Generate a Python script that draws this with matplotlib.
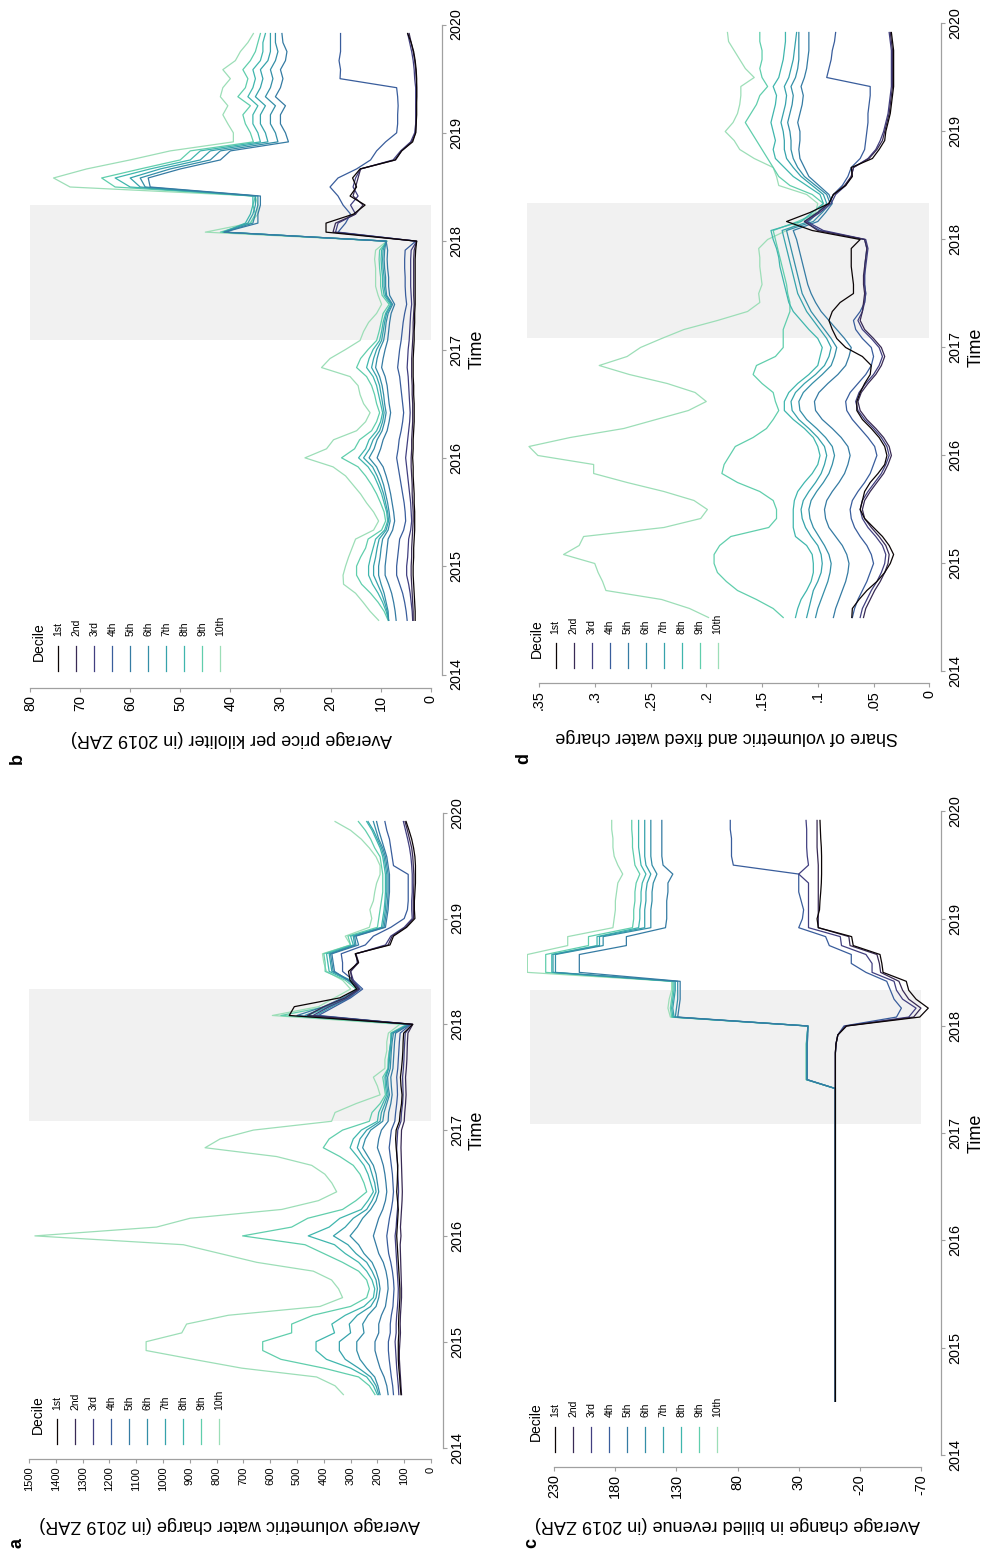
import numpy as np
import matplotlib
matplotlib.use("Agg")
import matplotlib.pyplot as plt
from matplotlib.lines import Line2D
import seaborn as sns

plt.rcParams['font.family'] = ['Liberation Sans', 'DejaVu Sans']

W, H = 987, 1551

# monthly observations 2014m7 .. 2019m12
months = 2014 + (6 + np.arange(66)) / 12
restriction = (2017 + 1 / 12, 2018 + 4 / 12)   # shaded period 2017m2 - 2018m5
years = [2014, 2015, 2016, 2017, 2018, 2019, 2020]
deciles = ['1st', '2nd', '3rd', '4th', '5th', '6th', '7th', '8th', '9th', '10th']

mako = sns.color_palette('mako', as_cmap=True)
colors = [mako(x) for x in (0.0, 0.2, 0.3, 0.4, 0.5, 0.57, 0.64, 0.71, 0.8, 0.88)]

# ---- a: average volumetric water charge (2019 ZAR) ----
charge_1 = [112, 115, 117, 120, 122, 122,
            122, 120, 121, 120, 118, 116, 116, 118, 120, 122, 124, 126,
            128, 126, 124, 122, 125, 128, 126, 125, 124, 127, 130, 132,
            130, 118, 115, 110, 108, 112, 114, 110, 107, 105, 104, 102,
            68, 529, 510, 340, 277, 302, 308, 271, 283, 153, 140, 91,
            60, 62, 62, 60, 58, 58, 58, 60, 65, 72, 82, 93]
charge_2 = [110, 112, 114, 116, 118, 118,
            116, 114, 115, 114, 112, 110, 110, 111, 112, 113, 114, 115,
            112, 114, 112, 110, 108, 107, 108, 109, 110, 111, 112, 111,
            110, 100, 98, 95, 93, 94, 95, 92, 90, 89, 88, 86,
            68, 460, 400, 320, 270, 295, 300, 270, 280, 160, 145, 95,
            65, 66, 66, 65, 64, 64, 66, 68, 72, 80, 88, 97]
charge_3 = [120, 122, 125, 128, 130, 132,
            134, 130, 130, 128, 125, 123, 122, 124, 126, 128, 130, 132,
            134, 130, 128, 125, 123, 121, 122, 124, 125, 127, 128, 126,
            124, 112, 110, 106, 104, 105, 106, 103, 101, 100, 98, 96,
            70, 440, 380, 310, 265, 290, 300, 275, 280, 170, 150, 100,
            70, 72, 72, 70, 70, 70, 72, 75, 80, 87, 95, 103]
charge_4 = [140, 143, 148, 152, 156, 159,
            159, 152, 152, 148, 142, 140, 138, 140, 144, 150, 158, 162,
            165, 160, 155, 148, 143, 140, 142, 144, 148, 152, 156, 152,
            148, 135, 132, 128, 125, 126, 128, 124, 122, 120, 118, 115,
            75, 420, 360, 300, 255, 290, 330, 330, 335, 245, 215, 150,
            100, 88, 85, 85, 85, 85, 140, 145, 150, 155, 165, 172]
charge_5 = [160, 165, 175, 190, 200, 209,
            209, 195, 195, 185, 170, 165, 160, 162, 168, 178, 195, 205,
            215, 205, 195, 180, 170, 165, 168, 172, 178, 188, 200, 195,
            185, 160, 158, 150, 145, 148, 150, 142, 140, 138, 136, 132,
            78, 500, 400, 330, 270, 310, 360, 365, 370, 270, 280, 170,
            165, 160, 158, 155, 155, 155, 160, 165, 175, 185, 195, 203]
charge_6 = [190, 198, 210, 240, 265, 277,
            277, 250, 255, 235, 205, 195, 190, 195, 205, 220, 250, 270,
            302, 275, 255, 225, 205, 195, 200, 205, 215, 235, 255, 245,
            225, 180, 175, 165, 155, 160, 162, 152, 150, 148, 145, 140,
            80, 470, 390, 320, 265, 305, 365, 370, 375, 280, 285, 175,
            170, 165, 162, 160, 160, 160, 165, 170, 180, 195, 205, 215]
charge_7 = [195, 205, 225, 270, 320, 342,
            342, 300, 305, 275, 225, 205, 200, 205, 220, 240, 280, 310,
            364, 320, 290, 240, 220, 205, 210, 220, 230, 255, 275, 265,
            240, 190, 185, 172, 160, 165, 168, 158, 155, 152, 150, 145,
            82, 430, 370, 305, 265, 300, 370, 375, 380, 285, 290, 180,
            175, 170, 168, 165, 165, 165, 170, 175, 185, 200, 215, 235]
charge_8 = [200, 215, 240, 300, 390, 429,
            429, 360, 370, 320, 250, 215, 210, 220, 240, 270, 320, 360,
            458, 380, 340, 260, 235, 215, 225, 235, 250, 275, 302, 290,
            260, 200, 195, 180, 165, 170, 172, 160, 158, 155, 150, 148,
            85, 460, 380, 310, 270, 310, 380, 385, 390, 290, 300, 185,
            180, 175, 172, 170, 170, 170, 175, 180, 190, 205, 220, 240]
charge_9 = [209, 230, 270, 400, 560, 628,
            628, 520, 520, 440, 300, 240, 230, 240, 270, 330, 400, 470,
            703, 520, 460, 330, 280, 240, 250, 265, 290, 340, 402, 380,
            330, 230, 220, 190, 170, 175, 180, 160, 160, 155, 150, 150,
            90, 560, 390, 320, 280, 320, 395, 395, 400, 300, 310, 200,
            195, 190, 185, 180, 180, 180, 185, 190, 210, 225, 245, 271]
charge_10 = [327, 358, 427, 706, 887, 1063,
             1063, 930, 912, 756, 414, 330, 345, 371, 439, 650, 787, 924,
             1478, 1024, 899, 557, 420, 352, 370, 396, 445, 576, 843, 787,
             663, 371, 358, 280, 190, 200, 215, 172, 172, 165, 165, 159,
             116, 592, 420, 360, 300, 330, 390, 400, 405, 300, 320, 230,
             221, 228, 215, 210, 203, 190, 190, 205, 230, 260, 300, 358]

# ---- b: average price per kiloliter (2019 ZAR) ----
price_1 = [3.1, 3.1, 3.2, 3.3, 3.4, 3.5,
           3.5, 3.4, 3.4, 3.3, 3.2, 3.2, 3.2, 3.3, 3.3, 3.4, 3.5, 3.5,
           3.6, 3.5, 3.5, 3.4, 3.3, 3.3, 3.3, 3.4, 3.4, 3.5, 3.5, 3.5,
           3.4, 3.3, 3.3, 3.2, 3.2, 3.1, 3.1, 3.1, 3.1, 3.1, 3.1, 3.0,
           2.8, 20.9, 20.9, 15.4, 13.1, 16.1, 14.8, 15.6, 14.1, 7.1, 5.8, 3.6,
           3.0, 2.9, 2.8, 2.8, 2.8, 2.8, 2.8, 2.9, 3.1, 3.4, 3.9, 4.6]
price_2 = [3.5, 3.5, 3.6, 3.7, 3.8, 3.9,
           3.9, 3.8, 3.8, 3.7, 3.6, 3.5, 3.5, 3.6, 3.7, 3.7, 3.8, 3.9,
           3.9, 3.8, 3.8, 3.7, 3.6, 3.6, 3.6, 3.7, 3.7, 3.8, 3.8, 3.8,
           3.7, 3.6, 3.5, 3.5, 3.4, 3.3, 3.4, 3.4, 3.4, 3.4, 3.4, 3.3,
           2.8, 19.5, 19.0, 15.0, 13.5, 15.5, 15.0, 14.5, 14.0, 7.0, 5.8, 3.8,
           3.0, 2.9, 2.9, 2.9, 2.8, 2.8, 2.9, 3.0, 3.2, 3.5, 3.9, 4.3]
price_3 = [3.6, 3.7, 3.9, 4.1, 4.4, 4.8,
           4.8, 4.6, 4.5, 4.4, 4.0, 3.8, 3.9, 4.0, 4.2, 4.4, 4.6, 4.8,
           5.0, 4.8, 4.6, 4.4, 4.2, 4.1, 4.2, 4.3, 4.4, 4.5, 4.7, 4.6,
           4.5, 4.3, 4.2, 4.1, 4.0, 3.8, 3.9, 4.0, 4.0, 4.0, 4.0, 3.9,
           2.8, 19.0, 18.5, 15.0, 16.0, 14.5, 15.5, 15.0, 14.0, 7.5, 6.0, 4.0,
           3.2, 3.0, 3.0, 3.0, 3.0, 3.0, 3.2, 3.3, 3.5, 3.8, 4.2, 4.6]
price_4 = [4.7, 4.9, 5.2, 5.6, 6.2, 6.8,
           6.8, 6.6, 6.4, 6.2, 5.4, 5.0, 5.1, 5.3, 5.6, 5.9, 6.2, 6.5,
           6.8, 6.5, 6.3, 5.9, 5.6, 5.4, 5.6, 5.8, 6.0, 6.2, 6.6, 6.4,
           6.2, 5.9, 5.7, 5.5, 5.2, 4.8, 5.0, 5.1, 5.1, 5.2, 5.2, 5.1,
           3.0, 18.5, 17.0, 16.0, 17.5, 18.5, 20.1, 18.5, 14.8, 12.0, 10.8, 9.0,
           6.8, 6.6, 6.6, 6.5, 6.6, 6.8, 18.1, 18.0, 18.3, 18.0, 18.0, 18.0]
price_5 = [6.9, 7.1, 7.4, 7.8, 8.4, 9.1,
           9.1, 8.9, 8.7, 8.5, 7.6, 7.2, 7.4, 7.7, 8.0, 8.4, 8.9, 9.5,
           10.7, 10.0, 9.5, 8.7, 8.3, 8.0, 8.3, 8.5, 8.7, 9.1, 9.8, 9.5,
           9.1, 8.6, 8.4, 8.2, 7.9, 7.2, 8.2, 8.4, 8.4, 8.6, 8.7, 8.6,
           8.9, 41.2, 34.5, 34.5, 34.0, 34.0, 56.0, 56.4, 50.0, 42.0, 40.0, 28.4,
           29.0, 30.0, 30.0, 29.0, 31.0, 30.0, 29.5, 30.0, 29.0, 28.7, 29.5, 29.7]
price_6 = [8.4, 8.5, 8.9, 9.3, 9.9, 10.4,
           10.4, 10.1, 9.9, 9.6, 8.5, 8.1, 8.3, 8.6, 9.0, 9.4, 10.0, 10.8,
           12.3, 11.3, 10.7, 9.7, 9.2, 8.9, 9.2, 9.4, 9.7, 10.2, 11.0, 10.7,
           10.2, 9.4, 9.1, 8.9, 8.5, 7.6, 8.8, 9.0, 9.0, 9.2, 9.3, 9.2,
           8.9, 41.2, 35.5, 35.0, 34.5, 34.5, 57.0, 58.0, 52.0, 44.0, 42.0, 30.5,
           31.0, 32.0, 32.0, 31.0, 33.0, 32.0, 31.5, 32.0, 31.0, 30.5, 31.0, 31.0]
price_7 = [8.4, 8.7, 9.2, 9.8, 10.6, 11.4,
           11.4, 11.0, 10.7, 10.3, 8.9, 8.4, 8.6, 9.0, 9.4, 10.0, 10.7, 11.6,
           13.4, 12.2, 11.5, 10.2, 9.6, 9.3, 9.6, 9.9, 10.2, 10.8, 11.8, 11.4,
           10.8, 9.8, 9.5, 9.2, 8.8, 7.8, 9.0, 9.3, 9.3, 9.5, 9.6, 9.5,
           8.9, 41.3, 36.5, 35.5, 35.0, 35.0, 58.0, 60.0, 54.0, 46.0, 44.0, 32.5,
           33.0, 34.0, 34.0, 33.0, 35.0, 34.0, 33.5, 34.0, 32.5, 32.0, 32.0, 32.0]
price_8 = [8.4, 8.9, 9.6, 10.5, 11.6, 12.4,
           12.4, 12.0, 11.5, 11.0, 9.2, 8.6, 8.8, 9.3, 9.8, 10.5, 11.3, 12.5,
           14.4, 13.0, 12.3, 10.8, 10.0, 9.6, 10.0, 10.4, 10.8, 11.5, 12.8, 12.3,
           11.5, 10.2, 9.8, 9.5, 9.0, 8.0, 9.3, 9.6, 9.6, 9.8, 9.9, 9.8,
           8.8, 41.5, 37.0, 36.0, 35.5, 35.5, 60.0, 63.0, 56.0, 48.0, 46.0, 34.0,
           34.5, 35.5, 35.5, 34.5, 36.5, 35.5, 35.0, 35.5, 34.0, 33.5, 33.5, 33.0]
price_9 = [8.5, 9.3, 10.5, 12.0, 13.8, 14.8,
           14.8, 14.0, 13.0, 12.5, 9.8, 9.0, 9.3, 10.0, 10.8, 11.8, 13.0, 14.5,
           17.8, 15.2, 14.2, 11.8, 10.8, 10.2, 10.8, 11.2, 11.8, 12.8, 14.8, 14.0,
           12.5, 10.8, 10.3, 9.9, 9.5, 8.3, 9.7, 10.0, 10.0, 10.2, 10.3, 10.2,
           8.7, 42.0, 36.0, 35.0, 35.5, 35.0, 63.0, 65.7, 58.0, 50.0, 48.0, 35.4,
           36.0, 37.0, 37.5, 36.0, 38.5, 37.0, 36.5, 37.5, 36.0, 35.0, 34.5, 34.0]
price_10 = [10.4, 12.1, 13.5, 15.0, 17.4, 17.5,
            17.0, 16.4, 15.7, 15.0, 11.4, 10.4, 11.4, 12.8, 14.0, 15.5, 17.0, 19.5,
            25.1, 20.8, 19.4, 14.8, 13.0, 12.1, 13.4, 14.1, 14.5, 16.1, 21.8, 20.1,
            17.0, 14.1, 13.4, 12.4, 10.8, 9.8, 10.5, 11.0, 11.0, 11.0, 11.2, 11.0,
            8.8, 45.0, 36.0, 34.5, 34.5, 35.0, 72.0, 75.3, 68.7, 60.0, 52.0, 39.4,
            39.4, 40.5, 41.5, 40.5, 42.0, 41.5, 40.0, 41.5, 39.0, 38.0, 36.5, 35.4]

# ---- c: average change in billed revenue (2019 ZAR) ----
change_1 = [0, 0, 0, 0, 0, 0,
            0, 0, 0, 0, 0, 0, 0, 0, 0, 0, 0, 0,
            0, 0, 0, 0, 0, 0, 0, 0, 0, 0, 0, 0,
            0, 0, 0, 0, 0, 0, 0, 0, 0, 0, -0.5, -2,
            -9.2, -69, -76, -66, -60, -58, -39, -38, -36.5, -14.6, -13.3, 14,
            15, 13, 12.6, 12, 11.5, 11.3, 11.3, 11.3, 11.5, 12, 12.3, 12.6]
change_2 = [0, 0, 0, 0, 0, 0,
            0, 0, 0, 0, 0, 0, 0, 0, 0, 0, 0, 0,
            0, 0, 0, 0, 0, 0, 0, 0, 0, 0, 0, 0,
            0, 0, 0, 0, 0, 0, 0, 0, 0, 0, -0.5, -2,
            -8.5, -64, -70, -60, -55, -52, -37, -36, -34, -12, -11, 14,
            14, 14, 14, 14, 14, 14, 14, 14.5, 15, 15, 15, 15]
change_3 = [0, 0, 0, 0, 0, 0,
            0, 0, 0, 0, 0, 0, 0, 0, 0, 0, 0, 0,
            0, 0, 0, 0, 0, 0, 0, 0, 0, 0, 0, 0,
            0, 0, 0, 0, 0, 0, 0, 0, 0, 0, -0.5, -2,
            -8, -60, -66, -55, -50, -48, -30, -30, -25, -5, -4, 22,
            22, 22, 22, 22, 22, 30, 22, 23, 23.5, 23.5, 23.5, 24]
change_4 = [0, 0, 0, 0, 0, 0,
            0, 0, 0, 0, 0, 0, 0, 0, 0, 0, 0, 0,
            0, 0, 0, 0, 0, 0, 0, 0, 0, 0, 0, 0,
            0, 0, 0, 0, 0, 0, 0, 0, 0, 0, -0.5, -2,
            -7, -50, -54, -48, -45, -42, -25, -13, -13, 5, 8, 30,
            27, 26, 28, 30, 30, 30, 83.5, 85, 85, 85, 86, 86]
change_5 = [0, 0, 0, 0, 0, 0,
            0, 0, 0, 0, 0, 0, 0, 0, 0, 0, 0, 0,
            0, 0, 0, 0, 0, 0, 0, 0, 0, 0, 0, 0,
            0, 0, 0, 0, 0, 0, 23, 23, 23, 23, 23, 22.5,
            22.5, 129, 128, 127, 127, 127, 209.5, 209.5, 209.5, 171, 171, 139,
            138, 138, 138, 137, 137, 133, 141, 142, 142, 142, 142, 142]
change_6 = [0, 0, 0, 0, 0, 0,
            0, 0, 0, 0, 0, 0, 0, 0, 0, 0, 0, 0,
            0, 0, 0, 0, 0, 0, 0, 0, 0, 0, 0, 0,
            0, 0, 0, 0, 0, 0, 23.3, 23.3, 23.3, 23.3, 23.3, 23,
            22.5, 131, 130, 129, 129, 129, 229, 229, 229, 190, 190, 151,
            151, 151, 150, 150, 149, 146, 150, 151, 151, 151, 151, 151]
change_7 = [0, 0, 0, 0, 0, 0,
            0, 0, 0, 0, 0, 0, 0, 0, 0, 0, 0, 0,
            0, 0, 0, 0, 0, 0, 0, 0, 0, 0, 0, 0,
            0, 0, 0, 0, 0, 0, 23.5, 23.5, 23.5, 23.5, 23.5, 23,
            22.5, 132, 133, 132, 131, 131, 231, 231, 231, 193, 193, 156,
            156, 156, 155, 155, 154, 151, 155, 156, 156, 156, 156, 156]
change_8 = [0, 0, 0, 0, 0, 0,
            0, 0, 0, 0, 0, 0, 0, 0, 0, 0, 0, 0,
            0, 0, 0, 0, 0, 0, 0, 0, 0, 0, 0, 0,
            0, 0, 0, 0, 0, 0, 23.6, 23.6, 23.6, 23.6, 23.6, 23,
            22.5, 133, 134, 133, 132, 132, 232, 232, 232, 195, 195, 161,
            160, 160, 159, 159, 158, 155, 159, 160, 161, 161, 161, 161]
change_9 = [0, 0, 0, 0, 0, 0,
            0, 0, 0, 0, 0, 0, 0, 0, 0, 0, 0, 0,
            0, 0, 0, 0, 0, 0, 0, 0, 0, 0, 0, 0,
            0, 0, 0, 0, 0, 0, 23.8, 23.8, 23.8, 23.8, 23.8, 23,
            22.5, 134, 135, 134, 133, 133, 237, 237, 237, 202, 202, 166,
            165, 165, 164, 164, 163, 160, 164, 165, 166, 166, 166.6, 166.6]
change_10 = [0, 0, 0, 0, 0, 0,
             0, 0, 0, 0, 0, 0, 0, 0, 0, 0, 0, 0,
             0, 0, 0, 0, 0, 0, 0, 0, 0, 0, 0, 0,
             0, 0, 0, 0, 0, 0, 24, 24, 24, 24, 24, 23,
             22.5, 135, 137, 136, 134, 134, 252, 252, 252, 219, 219, 182,
             181, 180, 180, 179, 178, 174, 178, 181, 182, 182, 183, 183]

# ---- d: share of volumetric and fixed water charge ----
share_1 = [0.0695, 0.069, 0.063, 0.056, 0.047, 0.040,
           0.035, 0.032, 0.036, 0.042, 0.050, 0.058, 0.062, 0.060, 0.058, 0.053, 0.046, 0.040,
           0.038, 0.040, 0.045, 0.052, 0.060, 0.065, 0.065, 0.062, 0.058, 0.053, 0.052, 0.060,
           0.075, 0.083, 0.087, 0.090, 0.087, 0.080, 0.068, 0.068, 0.069, 0.070, 0.070, 0.070,
           0.062, 0.105, 0.128, 0.107, 0.090, 0.086, 0.075, 0.069, 0.070, 0.051, 0.045, 0.040,
           0.039, 0.037, 0.035, 0.034, 0.033, 0.032, 0.032, 0.032, 0.032, 0.032, 0.033, 0.034]
share_2 = [0.059, 0.057, 0.053, 0.049, 0.044, 0.040,
           0.037, 0.036, 0.039, 0.045, 0.052, 0.058, 0.060, 0.058, 0.053, 0.047, 0.041, 0.037,
           0.034, 0.036, 0.041, 0.048, 0.056, 0.062, 0.064, 0.061, 0.055, 0.048, 0.043, 0.040,
           0.043, 0.050, 0.058, 0.062, 0.060, 0.059, 0.058, 0.059, 0.059, 0.058, 0.057, 0.056,
           0.058, 0.100, 0.112, 0.100, 0.090, 0.086, 0.076, 0.070, 0.068, 0.054, 0.047, 0.042,
           0.040, 0.038, 0.036, 0.035, 0.034, 0.033, 0.033, 0.033, 0.033, 0.033, 0.034, 0.035]
share_3 = [0.062, 0.060, 0.056, 0.052, 0.047, 0.043,
           0.040, 0.039, 0.042, 0.048, 0.055, 0.060, 0.062, 0.060, 0.055, 0.049, 0.043, 0.039,
           0.036, 0.038, 0.043, 0.050, 0.058, 0.064, 0.066, 0.063, 0.057, 0.050, 0.045, 0.042,
           0.045, 0.052, 0.060, 0.064, 0.060, 0.058, 0.057, 0.058, 0.058, 0.057, 0.056, 0.055,
           0.057, 0.095, 0.110, 0.098, 0.088, 0.084, 0.075, 0.070, 0.068, 0.055, 0.048, 0.044,
           0.041, 0.039, 0.037, 0.036, 0.035, 0.034, 0.034, 0.034, 0.034, 0.034, 0.035, 0.036]
share_4 = [0.069, 0.067, 0.064, 0.060, 0.056, 0.053,
           0.050, 0.052, 0.056, 0.062, 0.067, 0.070, 0.071, 0.069, 0.064, 0.058, 0.053, 0.050,
           0.047, 0.049, 0.055, 0.062, 0.069, 0.074, 0.075, 0.071, 0.064, 0.057, 0.052, 0.050,
           0.052, 0.060, 0.066, 0.068, 0.062, 0.058, 0.057, 0.058, 0.058, 0.058, 0.057, 0.056,
           0.058, 0.098, 0.112, 0.100, 0.090, 0.086, 0.078, 0.073, 0.070, 0.062, 0.058, 0.057,
           0.056, 0.055, 0.055, 0.054, 0.053, 0.053, 0.092, 0.090, 0.088, 0.087, 0.085, 0.084]
share_5 = [0.086, 0.084, 0.081, 0.078, 0.075, 0.073,
           0.072, 0.074, 0.078, 0.084, 0.090, 0.093, 0.094, 0.092, 0.087, 0.081, 0.076, 0.073,
           0.071, 0.073, 0.079, 0.087, 0.096, 0.102, 0.103, 0.099, 0.091, 0.082, 0.075, 0.072,
           0.070, 0.076, 0.083, 0.090, 0.097, 0.102, 0.106, 0.109, 0.111, 0.113, 0.115, 0.117,
           0.119, 0.122, 0.100, 0.093, 0.087, 0.090, 0.099, 0.108, 0.112, 0.116, 0.117, 0.116,
           0.116, 0.118, 0.116, 0.114, 0.113, 0.115, 0.112, 0.110, 0.109, 0.108, 0.108, 0.108]
share_6 = [0.102, 0.100, 0.097, 0.094, 0.091, 0.089,
           0.088, 0.090, 0.094, 0.099, 0.104, 0.107, 0.108, 0.106, 0.101, 0.095, 0.090, 0.087,
           0.085, 0.087, 0.093, 0.101, 0.110, 0.116, 0.117, 0.113, 0.105, 0.096, 0.088, 0.085,
           0.083, 0.088, 0.094, 0.100, 0.106, 0.110, 0.114, 0.116, 0.118, 0.120, 0.122, 0.124,
           0.126, 0.128, 0.104, 0.096, 0.089, 0.092, 0.102, 0.112, 0.118, 0.122, 0.124, 0.124,
           0.125, 0.127, 0.125, 0.123, 0.122, 0.124, 0.120, 0.118, 0.117, 0.117, 0.117, 0.117]
share_7 = [0.110, 0.108, 0.106, 0.104, 0.100, 0.097,
           0.096, 0.097, 0.100, 0.106, 0.111, 0.114, 0.115, 0.113, 0.108, 0.102, 0.097, 0.094,
           0.092, 0.094, 0.100, 0.108, 0.117, 0.123, 0.124, 0.120, 0.112, 0.102, 0.094, 0.090,
           0.088, 0.092, 0.098, 0.104, 0.110, 0.114, 0.118, 0.120, 0.122, 0.124, 0.126, 0.128,
           0.130, 0.132, 0.108, 0.100, 0.092, 0.095, 0.105, 0.115, 0.122, 0.128, 0.130, 0.130,
           0.131, 0.133, 0.131, 0.129, 0.128, 0.130, 0.126, 0.124, 0.122, 0.121, 0.120, 0.119]
share_8 = [0.120, 0.118, 0.115, 0.110, 0.106, 0.104,
           0.104, 0.105, 0.110, 0.120, 0.122, 0.122, 0.122, 0.121, 0.118, 0.112, 0.105, 0.100,
           0.098, 0.100, 0.104, 0.112, 0.122, 0.130, 0.130, 0.126, 0.118, 0.108, 0.100, 0.098,
           0.096, 0.100, 0.108, 0.115, 0.122, 0.126, 0.128, 0.130, 0.132, 0.134, 0.135, 0.137,
           0.140, 0.142, 0.115, 0.105, 0.095, 0.098, 0.110, 0.122, 0.130, 0.138, 0.140, 0.138,
           0.140, 0.142, 0.140, 0.138, 0.137, 0.140, 0.135, 0.133, 0.131, 0.130, 0.129, 0.129]
share_9 = [0.131, 0.140, 0.155, 0.172, 0.182, 0.190,
           0.193, 0.193, 0.188, 0.178, 0.144, 0.137, 0.137, 0.140, 0.152, 0.172, 0.186, 0.184,
           0.179, 0.174, 0.158, 0.146, 0.140, 0.135, 0.138, 0.140, 0.150, 0.158, 0.155, 0.138,
           0.131, 0.131, 0.131, 0.128, 0.125, 0.125, 0.127, 0.128, 0.130, 0.132, 0.134, 0.136,
           0.138, 0.140, 0.118, 0.100, 0.095, 0.105, 0.125, 0.135, 0.140, 0.145, 0.150, 0.155,
           0.160, 0.165, 0.160, 0.155, 0.152, 0.145, 0.150, 0.152, 0.150, 0.150, 0.152, 0.152]
share_10 = [0.198, 0.215, 0.240, 0.290, 0.293, 0.297,
            0.300, 0.328, 0.314, 0.310, 0.238, 0.205, 0.199, 0.211, 0.238, 0.271, 0.301, 0.301,
            0.351, 0.359, 0.322, 0.274, 0.245, 0.216, 0.200, 0.210, 0.235, 0.269, 0.296, 0.271,
            0.259, 0.240, 0.220, 0.190, 0.163, 0.152, 0.153, 0.150, 0.151, 0.152, 0.152, 0.153,
            0.145, 0.128, 0.115, 0.102, 0.100, 0.110, 0.135, 0.137, 0.140, 0.157, 0.170, 0.175,
            0.183, 0.176, 0.172, 0.170, 0.169, 0.169, 0.157, 0.165, 0.170, 0.175, 0.180, 0.181]

charge = [charge_1, charge_2, charge_3, charge_4, charge_5,
          charge_6, charge_7, charge_8, charge_9, charge_10]
price = [price_1, price_2, price_3, price_4, price_5,
         price_6, price_7, price_8, price_9, price_10]
change = [change_1, change_2, change_3, change_4, change_5,
          change_6, change_7, change_8, change_9, change_10]
share = [share_1, share_2, share_3, share_4, share_5,
         share_6, share_7, share_8, share_9, share_10]

fig = plt.figure(figsize=(W / 100, H / 100), dpi=100)
AXC = '#a0a0a0'
PT = 0.72  # points per pixel at 100 dpi


def fx(x):
    return x / W


def fy(y):
    return 1 - y / H


def panel(series, box, vlim, vticks, vlabels, vfs, spine_x, spine_y, band,
          ytitle, ytitle_xy, time_xy, letter, letter_xy):
    x0, x1, y0, y1 = box
    ax = fig.add_axes([fx(x0), fy(y1), (x1 - x0) / W, (y1 - y0) / H])
    ax.set_xlim(*vlim)
    ax.set_ylim(2014, 2020)
    ax.fill_betweenx(list(restriction), band[0], band[1], color='#f1f1f1', lw=0, zorder=0)
    for vals, c in reversed(list(zip(series, colors))):
        ax.plot(vals, months, color=c, lw=0.9, zorder=2)

    for s in ('top', 'left'):
        ax.spines[s].set_visible(False)
    ax.spines['right'].set_position(('outward', (spine_x - x1) * PT))
    ax.spines['bottom'].set_position(('outward', (spine_y - y1) * PT))
    ax.spines['bottom'].set_bounds(vticks[0], vticks[-1])
    for s in ('right', 'bottom'):
        ax.spines[s].set_color(AXC)
        ax.spines[s].set_linewidth(0.9)
    ax.yaxis.tick_right()
    ax.xaxis.tick_bottom()
    ax.set_xticks(vticks, vlabels)
    ax.set_yticks(years, [str(y) for y in years])
    ax.tick_params(length=3, width=0.8, color=AXC, pad=2.5)
    plt.setp(ax.get_xticklabels(), rotation=90, ha='center', va='top', fontsize=vfs)
    plt.setp(ax.get_yticklabels(), rotation=90, ha='left', va='center', fontsize=10.4)

    # legend: vertical keys with rotated labels
    for i, (lab, c) in enumerate(zip(deciles, colors)):
        kx = x0 + 28.3 + 18 * i
        fig.add_artist(Line2D([fx(kx), fx(kx)], [fy(y1 - 28.5), fy(y1 - 3.5)], color=c, lw=0.9))
        fig.text(fx(kx), fy(y1 - 38), lab, rotation=90, ha='center', va='bottom', fontsize=7.5)
    fig.text(fx(x0 + 9.3), fy(y1 - 33), 'Decile', rotation=90, ha='center', va='center', fontsize=10)

    fig.text(fx(ytitle_xy[0]), fy(ytitle_xy[1]), ytitle, rotation=180, ha='center', va='center', fontsize=13)
    fig.text(fx(time_xy[0]), fy(time_xy[1]), 'Time', rotation=90, ha='center', va='center', fontsize=13)
    fig.text(fx(letter_xy[0]), fy(letter_xy[1]), letter, rotation=90, ha='center', va='center',
             fontsize=13, fontweight='bold')
    return ax


panel(charge, (29, 431, 812.7, 1447.5), (1500, 0), list(range(0, 1501, 100)),
      [str(v) for v in range(0, 1501, 100)], 8.0, 442.7, 1459, (0, 1500),
      'Average volumetric water charge (in 2019 ZAR)', (230, 1524), (477, 1130), 'a', (17, 1543))

panel(price, (30, 430.7, 24.5, 674.5), (80, 0), list(range(0, 81, 10)),
      [str(v) for v in range(0, 81, 10)], 10.4, 441.7, 687.7, (0, 80),
      'Average price per kiloliter (in 2019 ZAR)', (231, 739), (477, 349.5), 'b', (17, 759))

panel(change, (527, 930, 811.5, 1455), (252.3, -77.4), list(range(-70, 231, 50)),
      [str(v) for v in range(-70, 231, 50)], 10.4, 940.7, 1466.7, (-70, 250),
      'Average change in billed revenue (in 2019 ZAR)', (727.5, 1525), (976, 1133), 'c', (532, 1543))

panel(share, (527.3, 929.3, 23.5, 671.5), (0.3605, 0), [0, 0.05, 0.1, 0.15, 0.2, 0.25, 0.3, 0.35],
      ['0', '.05', '.1', '.15', '.2', '.25', '.3', '.35'], 10.4, 940.7, 682.7, (0, 0.3605),
      'Share of volumetric and fixed water charge', (727, 737), (976, 347.5), 'd', (524, 759))

fig.savefig('out.png', dpi=100)
